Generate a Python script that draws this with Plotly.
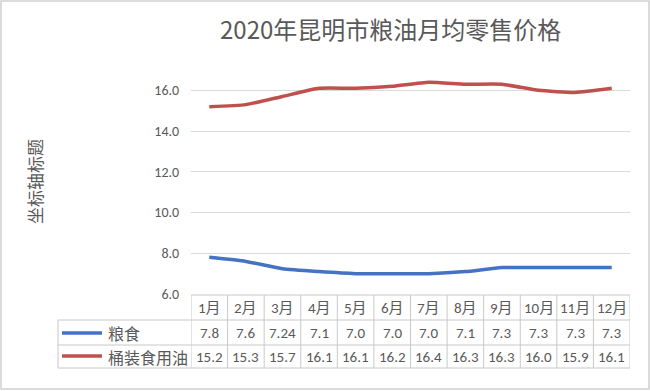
import plotly.graph_objects as go

months = ["1月", "2月", "3月", "4月", "5月", "6月", "7月", "8月", "9月", "10月", "11月", "12月"]
grain_name = "粮食"
oil_name = "桶装食用油"
grain = [7.8, 7.6, 7.24, 7.1, 7.0, 7.0, 7.0, 7.1, 7.3, 7.3, 7.3, 7.3]
oil = [15.2, 15.3, 15.7, 16.1, 16.1, 16.2, 16.4, 16.3, 16.3, 16.0, 15.9, 16.1]
grain_labels = ["7.8", "7.6", "7.24", "7.1", "7.0", "7.0", "7.0", "7.1", "7.3", "7.3", "7.3", "7.3"]
oil_labels = ["15.2", "15.3", "15.7", "16.1", "16.1", "16.2", "16.4", "16.3", "16.3", "16.0", "15.9", "16.1"]
y_ticks = [6, 8, 10, 12, 14, 16]

BLUE = "#4472C4"
RED = "#C0504D"
GRID = "#D9D9D9"
TXT = "#595959"
FONT = "Calibri, Carlito, 'Liberation Sans Narrow', 'Noto Sans CJK SC', sans-serif"
CJK = "'Noto Sans CJK SC', sans-serif"

W, H = 650, 391
L, R, T, B = 191, 20, 70, 97
pw, ph = W - L - R, H - T - B


def px_x(px):
    return (px - L) / pw


def px_y(py):
    return (H - B - py) / ph


fig = go.Figure()
idx = list(range(len(months)))
fig.add_trace(go.Scatter(x=idx, y=grain, mode="lines", name=grain_name,
                         line=dict(color=BLUE, width=3.5, shape="spline", smoothing=0.5)))
fig.add_trace(go.Scatter(x=idx, y=oil, mode="lines", name=oil_name,
                         line=dict(color=RED, width=3.5, shape="spline", smoothing=0.5)))

shapes = []
ann = []

y_top, y_h, y_r1, y_bot = 295, 320, 345, 368
line_c = "#C8C8C8"
for py, x0 in [(y_top, px_x(L)), (y_h, px_x(58)), (y_r1, px_x(58)), (y_bot, px_x(58))]:
    shapes.append(dict(type="line", xref="paper", yref="paper", x0=x0, x1=1,
                       y0=px_y(py), y1=px_y(py), line=dict(color=line_c, width=1)))
for i in range(len(months) + 1):
    shapes.append(dict(type="line", xref="x", yref="paper", x0=i - 0.5, x1=i - 0.5,
                       y0=px_y(y_top), y1=px_y(y_bot), line=dict(color=line_c, width=1)))
shapes.append(dict(type="line", xref="paper", yref="paper", x0=px_x(58), x1=px_x(58),
                   y0=px_y(y_h), y1=px_y(y_bot), line=dict(color=line_c, width=1)))
for py, col in [(333, BLUE), (356, RED)]:
    shapes.append(dict(type="line", xref="paper", yref="paper", x0=px_x(62), x1=px_x(102),
                       y0=px_y(py), y1=px_y(py), line=dict(color=col, width=3.5)))
shapes.append(dict(type="rect", xref="paper", yref="paper", x0=px_x(1), x1=px_x(649),
                   y0=px_y(1), y1=px_y(389), line=dict(color="#D0D0D0", width=1.5)))


def cell(x, xref, py, text, size, family, xanchor="center"):
    return dict(x=x, y=px_y(py), xref=xref, yref="paper", text=text, showarrow=False,
                xanchor=xanchor, yanchor="middle",
                font=dict(size=size, color=TXT, family=family))


for i, m in enumerate(months):
    ann.append(cell(i, "x", (y_top + y_h) / 2, m, 15, FONT))
    ann.append(cell(i, "x", (y_h + y_r1) / 2, grain_labels[i], 15, FONT))
    ann.append(cell(i, "x", (y_r1 + y_bot) / 2, oil_labels[i], 15, FONT))
ann.append(cell(px_x(106), "paper", (y_h + y_r1) / 2, grain_name, 16, CJK, "left"))
ann.append(cell(px_x(106), "paper", (y_r1 + y_bot) / 2, oil_name, 16, CJK, "left"))
yt = cell(px_x(34), "paper", 182, "坐标轴标题", 17, CJK)
yt["textangle"] = -90
ann.append(yt)
ann.append(cell(px_x(390), "paper", 28, "2020年昆明市粮油月均零售价格", 24, CJK))

fig.update_layout(
    width=W, height=H,
    margin=dict(l=L, r=R, t=T, b=B),
    paper_bgcolor="white", plot_bgcolor="white",
    showlegend=False,
    shapes=shapes, annotations=ann,
    xaxis=dict(range=[-0.5, len(months) - 0.5], showticklabels=False, showgrid=False,
               zeroline=False, showline=False, fixedrange=True),
    yaxis=dict(range=[6, 17], tickvals=y_ticks, ticktext=[f"{v:.1f}" for v in y_ticks],
               showgrid=True, gridcolor=GRID, gridwidth=1, zeroline=False, showline=False,
               ticks="outside", ticklen=8, tickcolor="rgba(0,0,0,0)",
               tickfont=dict(size=14, color=TXT, family=FONT)),
)

fig.write_html("out.html", config={"displayModeBar": False})
with open("out.html", encoding="utf-8") as f:
    html = f.read()
html = html.replace("<body>", '<body style="margin:0;padding:0;overflow:hidden">', 1)
with open("out.html", "w", encoding="utf-8") as f:
    f.write(html)
